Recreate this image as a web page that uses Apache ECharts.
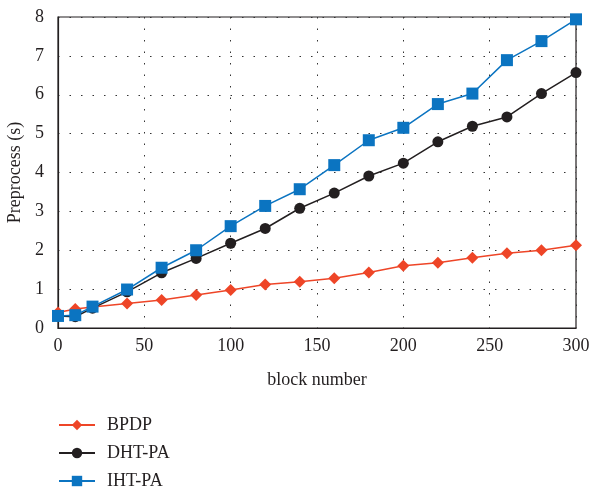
<!DOCTYPE html>
<html>
<head>
<meta charset="utf-8">
<script src="https://cdn.jsdelivr.net/npm/echarts@6/dist/echarts.min.js"></script>
<style>
  html, body { margin: 0; padding: 0; background: #fff; }
  #main { width: 591px; height: 492px; }
</style>
</head>
<body>
<div id="main"></div>
<script>
    // block numbers on the x axis
    var blocks = [0, 10, 20, 40, 60, 80, 100, 120, 140, 160, 180, 200, 220, 240, 260, 280, 300];

    // preprocess time (s) per scheme
    var bpdp = [0.40, 0.49, 0.54, 0.63, 0.72, 0.85, 0.98, 1.12, 1.19, 1.28, 1.43, 1.60, 1.68, 1.81, 1.92, 2.00, 2.13];
    var dhtPa = [0.31, 0.29, 0.51, 0.93, 1.42, 1.79, 2.18, 2.56, 3.08, 3.47, 3.91, 4.24, 4.79, 5.19, 5.43, 6.03, 6.57];
    var ihtPa = [0.31, 0.33, 0.55, 0.99, 1.55, 2.00, 2.62, 3.14, 3.57, 4.19, 4.83, 5.15, 5.76, 6.03, 6.89, 7.38, 7.94];

    function pairs(ys) {
        var out = [];
        for (var i = 0; i < blocks.length; i++) {
            out.push([blocks[i], ys[i]]);
        }
        return out;
    }

    var font = 'Liberation Serif';
    var ink = '#231f20';

    var myChart = echarts.init(document.getElementById('main'));

    var option = {
        animation: false,
        textStyle: { fontFamily: font, color: ink },
        grid: {
            left: 58, top: 17, right: 15, bottom: 164,
            outerBoundsMode: 'none',
            show: true, borderColor: ink, borderWidth: 1.2
        },
        legend: {
            orient: 'vertical',
            left: 58, top: 416,
            padding: 0,
            itemWidth: 36, itemHeight: 13, itemGap: 10,
            textStyle: { fontFamily: font, fontSize: 18, color: ink, padding: [0, 0, 0, 7] },
            data: ['BPDP', 'DHT-PA', 'IHT-PA']
        },
        xAxis: {
            type: 'value',
            min: 0, max: 300, interval: 50,
            name: 'block number',
            nameLocation: 'middle',
            nameGap: 43,
            nameTextStyle: { fontFamily: font, fontSize: 18, color: ink },
            axisLine: { lineStyle: { color: ink, width: 1.2 } },
            axisTick: { show: false },
            axisLabel: { fontFamily: font, fontSize: 18, color: ink, margin: 9 },
            splitLine: { show: true, lineStyle: { color: '#333', type: [1.5, 10], width: 1 } }
        },
        yAxis: {
            type: 'value',
            min: 0, max: 8, interval: 1,
            name: 'Preprocess (s)',
            nameLocation: 'middle',
            nameGap: 31,
            nameTextStyle: { fontFamily: font, fontSize: 18, color: ink },
            axisLine: { show: true, lineStyle: { color: ink, width: 1.2 } },
            axisTick: { show: false },
            axisLabel: { fontFamily: font, fontSize: 18, color: ink, margin: 14 },
            splitLine: { show: true, lineStyle: { color: '#333', type: [1.5, 10], width: 1 } }
        },
        series: [{
            name: 'BPDP',
            type: 'line',
            data: pairs(bpdp),
            symbol: 'diamond',
            symbolSize: 12,
            itemStyle: { color: '#ee4527' },
            lineStyle: { width: 1.5 }
        }, {
            name: 'DHT-PA',
            type: 'line',
            data: pairs(dhtPa),
            symbol: 'circle',
            symbolSize: 11,
            itemStyle: { color: '#231f20' },
            lineStyle: { width: 1.5 }
        }, {
            name: 'IHT-PA',
            type: 'line',
            data: pairs(ihtPa),
            symbol: 'rect',
            symbolSize: 12,
            itemStyle: { color: '#0b74c1' },
            lineStyle: { width: 1.5 }
        }]
    };

    myChart.setOption(option);
</script>
</body>
</html>
